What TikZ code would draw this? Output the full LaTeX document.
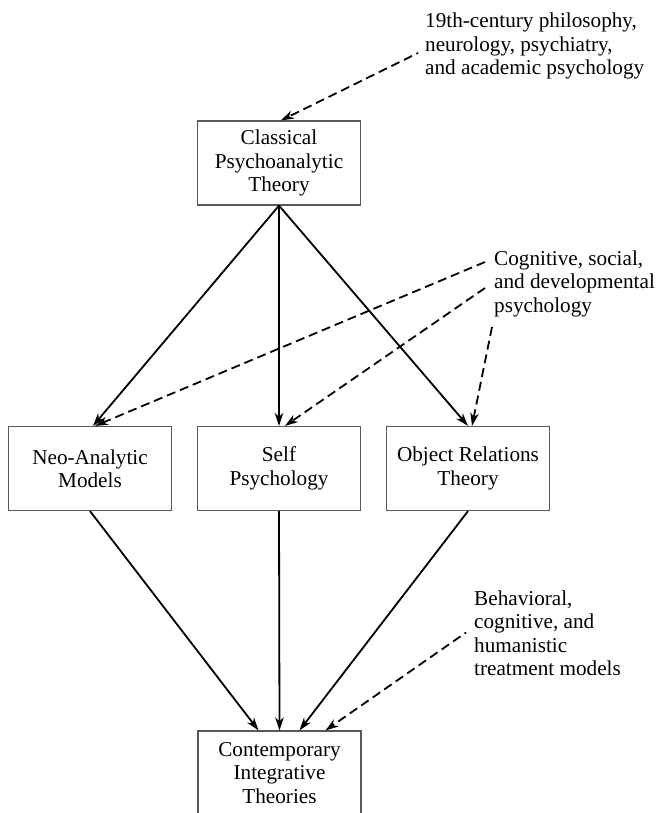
\documentclass[tikz,border=0pt]{standalone}
\usepackage{fontspec}
\setmainfont{Liberation Serif}
\usetikzlibrary{arrows.meta}
\begin{document}
\begin{tikzpicture}[x=1pt,y=-1pt,
  every node/.style={font=\fontsize{21.2}{23.5}\selectfont, text=black},
  box/.style={draw=black!65, line width=1.2pt, minimum width=163pt, minimum height=84pt, align=center, inner sep=0pt},
  lbl/.style={align=left, anchor=north west, inner sep=0pt},
  solidarrow/.style={-{Stealth[length=13pt,width=8.5pt,inset=4pt]}, line width=1.8pt, draw=black},
  dasharrow/.style={solidarrow, dash pattern=on 9pt off 5pt},
  dotstart/.style={dash phase=7.3pt}
]
\useasboundingbox (0,0) rectangle (657,813);

% boxes
\node[box] (cls)  at (279,163)   {Classical\\Psychoanalytic\\Theory};
\node[box] (neo)  at (90,468.5)  {Neo-Analytic\\Models};
\node[box] (self) at (279,468.5) {Self\\Psychology};
\node[box] (obj)  at (468,468.5) {Object Relations\\Theory};
\node[box] (con)  at (279.5,773) {Contemporary\\Integrative\\Theories};

% labels
\node[lbl] (src1) at (425,13)    {19th-century philosophy,\\neurology, psychiatry,\\and academic psychology};
\node[lbl] (src2) at (494,250.5) {Cognitive, social,\\and developmental\\psychology};
\node[lbl] (src3) at (474,590.5) {Behavioral,\\cognitive, and\\humanistic\\treatment models};

% free ends of dashed connectors
\coordinate (s1)  at (418,53);
\coordinate (s2a) at (485,262);
\coordinate (s2b) at (485,288);
\coordinate (s2c) at (492,327);
\coordinate (s3)  at (466,632.5);

% connectors
\draw[dasharrow,dotstart] (s1) -- ([xshift=2pt]cls.north);
\draw[solidarrow] (cls.south) -- ([xshift=3pt]neo.north);
\draw[solidarrow] (cls.south) -- (self.north);
\draw[solidarrow] (cls.south) -- (obj.north);
\draw[dasharrow] (s2a) -- ([xshift=5pt]neo.north);
\draw[dasharrow] (s2b) -- ([xshift=6pt]self.north);
\draw[dasharrow] (s2c) -- ([xshift=4pt]obj.north);
\draw[solidarrow] (neo.south) -- ([xshift=-21pt]con.north);
\draw[solidarrow] (self.south) -- (con.north);
\draw[solidarrow] (obj.south) -- ([xshift=20pt]con.north);
\draw[dasharrow,dotstart] (s3) -- ([xshift=46pt]con.north);
\end{tikzpicture}
\end{document}
